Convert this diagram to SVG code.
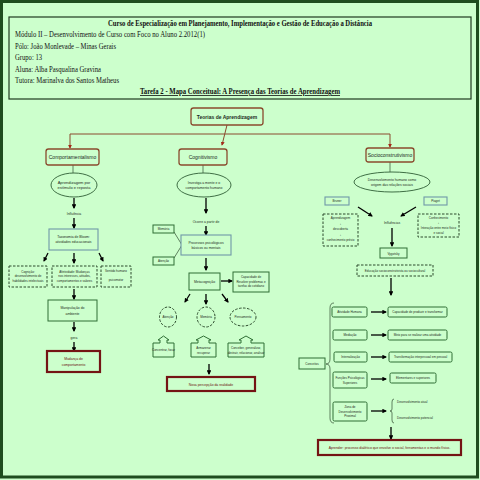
<svg xmlns="http://www.w3.org/2000/svg" width="480" height="480" viewBox="0 0 480 480">
<style>
.hd{font-family:"Liberation Serif",serif;fill:#111;font-size:8px}
.hb{font-weight:bold}
.t{font-family:"Liberation Sans",Arial,sans-serif;fill:#1d2b1d;text-anchor:middle}
.f5{font-size:5px}.f4{font-size:4px}.f35{font-size:3.4px}.f3{font-size:3px}
.br{fill:#ccffcc;stroke:#8a4b2e;stroke-width:1.3}
.gr{fill:#ccffcc;stroke:#2f6e35;stroke-width:1}
.bl{fill:#ccffcc;stroke:#6f98a8;stroke-width:1.1}
.rd{fill:#ccffcc;stroke:#741414;stroke-width:2.2}
.ds{fill:#ccffcc;stroke:#2c4a2c;stroke-width:1;stroke-dasharray:2.5 1.5}
.el{fill:#ccffcc;stroke:#2f5e35;stroke-width:0.9}
.rt{fill:#6b0f0f}
.ar{stroke:#000;stroke-width:1.3;fill:none;marker-end:url(#ah)}
.bn{stroke:#8a4b2e;stroke-width:1;fill:none}
.ba{stroke:#8a4b2e;stroke-width:1;fill:none;marker-end:url(#bh)}
.ln{stroke:#2f4a2f;stroke-width:0.7;fill:none}
</style>
<defs>
<marker id="ah" viewBox="0 0 10 10" refX="8" refY="5" markerWidth="3.5" markerHeight="3.5" orient="auto"><path d="M0,0 L10,5 L0,10 z" fill="#000"/></marker>
<marker id="bh" viewBox="0 0 10 10" refX="8" refY="5" markerWidth="4" markerHeight="4" orient="auto"><path d="M0,0 L10,5 L0,10 z" fill="#a52a1a"/></marker>
</defs>
<rect x="0" y="0" width="480" height="480" fill="#ccffcc"/>
<rect x="1.5" y="1.5" width="476" height="475.5" fill="none" stroke="#1e4d1e" stroke-width="3"/>

<g id="header">
<rect x="9" y="17" width="462" height="82" fill="#ccffcc" stroke="#1f3a1f" stroke-width="1.2"/>
<text class="hd hb" x="240" y="26" text-anchor="middle" textLength="264" lengthAdjust="spacingAndGlyphs">Curso de Especialização em Planejamento, Implementação e Gestão de Educação a Distância</text>
<text class="hd" x="15" y="37" textLength="190" lengthAdjust="spacingAndGlyphs">Módulo II – Desenvolvimento de Curso com Foco no Aluno 2.2012(1)</text>
<text class="hd" x="15" y="49" textLength="101" lengthAdjust="spacingAndGlyphs">Pólo: João Monlevade – Minas Gerais</text>
<text class="hd" x="15" y="60" textLength="27" lengthAdjust="spacingAndGlyphs">Grupo: 13</text>
<text class="hd" x="15" y="72" textLength="86" lengthAdjust="spacingAndGlyphs">Aluna: Alba Pasqualina Gravina</text>
<text class="hd" x="15" y="83" textLength="104" lengthAdjust="spacingAndGlyphs">Tutora: Marinalva dos Santos Matheus</text>
<text class="hd hb" x="240" y="94" text-anchor="middle" text-decoration="underline" textLength="200" lengthAdjust="spacingAndGlyphs">Tarefa 2 - Mapa Conceitual: A Presença das Teorias de Aprendizagem</text>
</g>

<g id="connectors">
<line class="ba" x1="227" y1="125" x2="222" y2="145"/>
<line class="bn" x1="70" y1="134" x2="390" y2="134"/>
<line class="ba" x1="70" y1="134" x2="70" y2="148"/>
<line class="ba" x1="390" y1="134" x2="390" y2="147"/>
<line class="ln" x1="73" y1="165" x2="73" y2="173"/>
<line class="ar" x1="74" y1="198" x2="74" y2="208"/>
<line class="ar" x1="74" y1="218" x2="74" y2="228"/>
<line class="ar" x1="48" y1="253" x2="44" y2="261"/>
<line class="ar" x1="74" y1="253" x2="74" y2="263"/>
<line class="ar" x1="99" y1="253" x2="103" y2="261"/>
<line class="ar" x1="74" y1="289" x2="74" y2="299"/>
<line class="ar" x1="74" y1="322" x2="74" y2="331"/>
<line class="ar" x1="74" y1="342" x2="74" y2="351"/>
<line class="ln" x1="203" y1="165" x2="203" y2="173"/>
<line class="ar" x1="206" y1="198" x2="206" y2="213"/>
<line class="ar" x1="206" y1="226" x2="206" y2="235"/>
<polyline class="ln" points="174,232 182,245 174,258"/>
<line class="ar" x1="206" y1="258" x2="206" y2="270"/>
<line class="ar" x1="221" y1="281" x2="232" y2="281"/>
<line class="ar" x1="190" y1="294" x2="185" y2="302"/>
<line class="ar" x1="206" y1="294" x2="206" y2="304"/>
<line class="ar" x1="222" y1="294" x2="228" y2="302"/>
<line class="ar" x1="209" y1="364" x2="209" y2="374"/>
<line class="ln" x1="390" y1="162" x2="390" y2="172"/>
<line class="ar" x1="358" y1="207" x2="372" y2="216"/>
<line class="ar" x1="416" y1="207" x2="401" y2="216"/>
<line class="ar" x1="392" y1="228" x2="392" y2="246"/>
<line class="ar" x1="391" y1="278" x2="391" y2="295"/>
<path class="ln" d="M334,303 Q330,303 330,308 L330,359 Q330,364 326,364 Q330,364 330,369 L330,418 Q330,423 334,423"/>
<line class="ar" x1="371" y1="312" x2="386" y2="312"/>
<line class="ar" x1="371" y1="335" x2="386" y2="335"/>
<line class="ar" x1="371" y1="357" x2="386" y2="357"/>
<line class="ar" x1="371" y1="379" x2="386" y2="379"/>
<line class="ar" x1="371" y1="411" x2="386" y2="411"/>
<path class="ln" d="M394,399 Q392,399 392,402 L392,409 Q392,411 390,411 Q392,411 392,413 L392,420 Q392,423 394,423"/>
<line class="ar" x1="391" y1="427" x2="391" y2="439"/>
</g>

<g id="teorias"><rect class="br" x="191" y="108" width="72" height="17" rx="2.5"/><text class="t f5" x="227" y="118.5" font-weight="bold">Teorias de Aprendizagem</text></g>

<g id="comportamentalismo"><rect class="br" x="46" y="149" width="53" height="16" rx="2.5"/><text class="t f5" x="72.5" y="158.5">Comportamentalismo</text></g>
<g id="estimulo"><ellipse class="el" cx="74" cy="185" rx="23" ry="12"/><text class="t f4" x="74" y="184">Aprendizagem por</text><text class="t f4" x="74" y="189">estímulo e reposta</text></g>
<text class="t f35" x="74" y="214.5">Influência</text>
<g id="taxonomia"><rect class="bl" x="49" y="229" width="49" height="21"/><text class="t f35" x="73.5" y="238">Taxonomia de Bloom:</text><text class="t f35" x="73.5" y="243">atividades educacionais</text></g>
<g id="cognicao"><rect class="ds" x="9" y="266" width="38" height="21"/><text class="t f3" x="28" y="272.5">Cognição:</text><text class="t f3" x="28" y="277">desenvolvimento de</text><text class="t f3" x="28" y="281.5">habilidades intelectuais</text></g>
<g id="afetividade"><rect class="ds" x="52" y="266" width="45" height="21"/><text class="t f3" x="74.5" y="272.5">Afetividade: Mudanças</text><text class="t f3" x="74.5" y="277">nos interesses, atitudes,</text><text class="t f3" x="74.5" y="281.5">comportamentos e valores</text></g>
<g id="psicomotor"><rect class="ds" x="101" y="266" width="30" height="21"/><text class="t f3" x="116" y="272">Sentido humano</text><text class="t f3" x="116" y="281">psicomotor</text></g>
<g id="manipulacao"><rect class="gr" x="48" y="300" width="49" height="21"/><text class="t f35" x="72.5" y="309">Manipulação do</text><text class="t f35" x="72.5" y="314.5">ambiente</text></g>
<text class="t f35" x="74" y="338.5">gera</text>
<g id="mudanca"><rect class="rd" x="47" y="351" width="53" height="21"/><text class="t f35 rt" x="73.5" y="360">Mudança de</text><text class="t f35 rt" x="73.5" y="365.5">comportamento</text></g>

<g id="cognitivismo"><rect class="br" x="179" y="149" width="48" height="16" rx="2.5"/><text class="t f5" x="203" y="158.5">Cognitivismo</text></g>
<g id="investiga"><ellipse class="el" cx="204" cy="185" rx="27" ry="12"/><text class="t f35" x="204" y="184">Investiga a mente e o</text><text class="t f35" x="204" y="189">comportamento humano</text></g>
<text class="t f35" x="206" y="223">Ocorre a partir de</text>
<g id="processos"><rect class="bl" x="181" y="235" width="50" height="20"/><text class="t f35" x="206" y="244">Processos psicológicos</text><text class="t f35" x="206" y="249">básicos ou mentais</text></g>
<g id="memoria-box"><rect class="gr" x="153" y="225" width="21" height="8"/><text class="t f3" x="163.5" y="230">Memória</text></g>
<g id="atencao-box"><rect class="gr" x="153" y="257" width="21" height="8"/><text class="t f3" x="163.5" y="262">Atenção</text></g>
<g id="metacognicao"><rect class="gr" x="189" y="273" width="31" height="17"/><text class="t f35" x="204.5" y="282.5">Metacognição</text></g>
<g id="capacidade"><rect class="gr" x="233" y="272" width="36" height="20"/><text class="t f3" x="251" y="278">Capacidade de</text><text class="t f3" x="251" y="282.5">Resolver problemas e</text><text class="t f3" x="251" y="287">tarefas do cotidiano</text></g>
<g id="atencao"><ellipse class="ds" cx="168" cy="317" rx="8.5" ry="10"/><text class="t f3" x="168" y="318">Atenção</text></g>
<g id="memoria"><ellipse class="ds" cx="206" cy="317" rx="9" ry="10"/><text class="t f3" x="206" y="318">Memória</text></g>
<g id="pensamento"><ellipse class="ds" cx="243" cy="317" rx="13" ry="9"/><text class="t f3" x="243" y="318">Pensamento</text></g>
<g id="concentrar"><path class="gr" d="M153,343 L160,343 L160,340 L158,340 L163.5,336 L169,340 L167,340 L167,343 L174,343 L174,357 L153,357 Z"/><text class="t f3" x="163.5" y="351">Concentrar, focar</text></g>
<g id="armazenar"><path class="gr" d="M191,343 L198,343 L198,340 L196,340 L203.5,336 L211,340 L209,340 L209,343 L216,343 L216,357 L191,357 Z"/><text class="t f3" x="203.5" y="349">Armazenar</text><text class="t f3" x="203.5" y="353.5">recuperar</text></g>
<g id="conceber"><path class="gr" d="M228,343 L241,343 L241,340 L239,340 L246,336 L253,340 L251,340 L251,343 L264,343 L264,357 L228,357 Z"/><text class="t f3" x="246" y="349">Conceber, generalizar,</text><text class="t f3" x="246" y="353.5">abstrair, relacionar, analisar</text></g>
<g id="nova"><rect class="rd" x="167" y="377" width="88" height="14"/><text class="t f35 rt" x="211" y="385.5">Nova percepção da realidade</text></g>

<g id="socioconstrutivismo"><rect class="br" x="366" y="148" width="48" height="14" rx="2.5"/><text class="t f5" x="390" y="156.5">Socioconstrutivismo</text></g>
<g id="desenvolvimento"><ellipse class="el" cx="392" cy="182" rx="38" ry="10"/><text class="t f35" x="392" y="181">Desenvolvimento humano como</text><text class="t f35" x="392" y="186">origem das relações sociais</text></g>
<g id="bruner"><rect class="bl" x="325" y="197" width="24" height="8"/><text class="t f3" x="337" y="202">Bruner</text></g>
<g id="piaget"><rect class="bl" x="424" y="197" width="23" height="8"/><text class="t f3" x="435.5" y="202">Piaget</text></g>
<g id="bruner-det"><rect class="ds" x="323" y="214" width="35" height="32"/><text class="t f3" x="340.5" y="219">Aprendizagem</text><text class="t f3" x="340.5" y="224.5">↓</text><text class="t f3" x="340.5" y="230">descoberta</text><text class="t f3" x="340.5" y="235.5">↓</text><text class="t f3" x="340.5" y="241">conhecimento prévio</text></g>
<g id="piaget-det"><rect class="ds" x="418" y="214" width="41" height="23"/><text class="t f3" x="438.5" y="219">Conhecimento</text><text class="t f3" x="438.5" y="224">↓</text><text class="t f3" x="438.5" y="229">Interação entre meio físico</text><text class="t f3" x="438.5" y="234">e social</text></g>
<text class="t f35" x="392" y="223.5">Influências</text>
<g id="vygotsky"><rect class="gr" x="380" y="248" width="27" height="10"/><text class="t f3" x="393.5" y="254.5">Vygotsky</text></g>
<g id="educacao"><rect class="ds" x="357" y="265" width="76" height="11"/><text class="t f3" x="395" y="271.5">Educação socioconstrutivista ou sociocultural</text></g>
<g id="conceitos"><rect class="gr" x="299" y="358" width="26" height="11"/><text class="t f3" x="312" y="364.5">Conceitos</text></g>
<g id="atividade"><rect class="gr" x="332" y="307" width="35" height="10" rx="1.5"/><text class="t f3" x="349.5" y="313">Atividade Humana</text></g>
<g id="produzir"><rect class="gr" x="388" y="307" width="59" height="10" rx="1.5"/><text class="t f3" x="417.5" y="313">Capacidade de produzir e transformar</text></g>
<g id="mediacao"><rect class="gr" x="333" y="330" width="34" height="10" rx="1.5"/><text class="t f3" x="350" y="336">Mediação</text></g>
<g id="meio"><rect class="gr" x="388" y="330" width="59" height="10" rx="1.5"/><text class="t f3" x="417.5" y="336">Meio para se realizar uma atividade</text></g>
<g id="internalizacao"><rect class="gr" x="334" y="352" width="33" height="10" rx="1.5"/><text class="t f3" x="350.5" y="358">Internalização</text></g>
<g id="transformacao"><rect class="gr" x="389" y="352" width="63" height="10" rx="1.5"/><text class="t f3" x="420.5" y="358">Transformação interpessoal em pessoal</text></g>
<g id="funcoes"><rect class="gr" x="333" y="372" width="34" height="16" rx="1.5"/><text class="t f3" x="350" y="379">Funções Psicológicas</text><text class="t f3" x="350" y="383.5">Superiores</text></g>
<g id="elementares"><rect class="gr" x="390" y="373" width="46" height="10" rx="1.5"/><text class="t f3" x="413" y="379">Elementares e superiores</text></g>
<g id="zona"><rect class="gr" x="333" y="402" width="34" height="19" rx="1.5"/><text class="t f3" x="350" y="408">Zona de</text><text class="t f3" x="350" y="412.5">Desenvolvimento</text><text class="t f3" x="350" y="417">Proximal</text></g>
<text class="t f3" x="397" y="403" style="text-anchor:start">Desenvolvimento atual</text>
<text class="t f3" x="397" y="419" style="text-anchor:start">Desenvolvimento potencial</text>
<g id="aprender"><rect class="rd" x="318" y="440" width="143" height="15"/><text class="t f35 rt" x="389.5" y="449">Aprender: processo dialético que envolve o social, ferramentas e o mundo físico.</text></g>
</svg>
